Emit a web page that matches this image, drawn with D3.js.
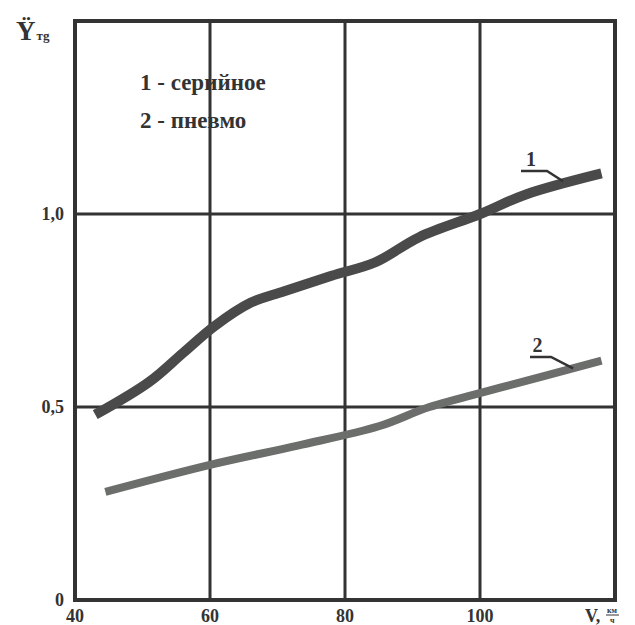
<!DOCTYPE html>
<head>
<meta charset="utf-8">
<title>Ÿтg от V</title>
<style>
  body { margin: 0; background: #fff; }
  text { font-family: "Liberation Serif", "DejaVu Serif", serif; font-weight: bold; fill: #333; }
</style>
</head>
<body>
<svg width="635" height="625"></svg>
<script src="https://d3js.org/d3.v7.min.js"></script>
<script>

    // values
    var xTicks = [40, 60, 80, 100];
    var yTicks = [0, 0.5, 1.0];
    var yTickLabels = ["0", "0,5", "1,0"];
    var legendItems = ["1 - серийное", "2 - пневмо"];

    var serial = [
        [43, 0.48], [51, 0.565], [56, 0.64], [60.7, 0.71], [66, 0.77],
        [71, 0.80], [78, 0.84], [84.5, 0.875], [91, 0.94], [100, 1.0],
        [106.7, 1.05], [118, 1.105]
    ];
    var pneumo = [
        [44.5, 0.28], [60, 0.35], [73, 0.40], [85, 0.45], [92.5, 0.50],
        [103, 0.55], [118, 0.62]
    ];

    // where the label leaders touch the curves
    var labelPoints = [[112.3, 1.085], [113.8, 0.60]];

    var svg = d3.select("svg");

    var x = d3.scaleLinear().domain([40, 120]).range([75, 615]);
    var y = d3.scaleLinear().domain([0, 1.5]).range([600, 21]);

    // grid
    svg.append("g").selectAll("line")
        .data([60, 80, 100])
        .enter().append("line")
            .attr("x1", d => x(d)).attr("x2", d => x(d))
            .attr("y1", y(1.5)).attr("y2", y(0))
            .attr("stroke", "#333").attr("stroke-width", 3);

    svg.append("g").selectAll("line")
        .data([0.5, 1.0])
        .enter().append("line")
            .attr("x1", x(40)).attr("x2", x(120))
            .attr("y1", d => y(d)).attr("y2", d => y(d))
            .attr("stroke", "#333").attr("stroke-width", 3);

    // frame
    svg.append("rect")
        .attr("x", x(40)).attr("y", y(1.5))
        .attr("width", x(120) - x(40)).attr("height", y(0) - y(1.5))
        .attr("fill", "none").attr("stroke", "#333").attr("stroke-width", 4);

    // tick labels
    svg.append("g").selectAll("text")
        .data(xTicks)
        .enter().append("text")
            .attr("x", d => x(d)).attr("y", 622)
            .attr("text-anchor", "middle")
            .style("font-size", "18px")
            .text(d => d);

    svg.append("text")
        .attr("x", x(120) - 30).attr("y", 622)
        .style("font-size", "18px")
        .text("V,");
    svg.append("text")
        .attr("x", x(120) - 8).attr("y", 613)
        .style("font-size", "8px")
        .text("км");
    svg.append("line")
        .attr("x1", x(120) - 9).attr("x2", x(120) + 4)
        .attr("y1", 615).attr("y2", 615)
        .attr("stroke", "#333").attr("stroke-width", 1);
    svg.append("text")
        .attr("x", x(120) - 5).attr("y", 623)
        .style("font-size", "8px")
        .text("ч");

    svg.append("g").selectAll("text")
        .data(yTicks)
        .enter().append("text")
            .attr("x", 64).attr("y", d => y(d) + 6)
            .attr("text-anchor", "end")
            .style("font-size", "18px")
            .text((d, i) => yTickLabels[i]);

    // y axis title
    var yt = svg.append("text").attr("x", 16).attr("y", 40);
    yt.append("tspan").style("font-size", "27px").text("Ÿ");
    yt.append("tspan").style("font-size", "13px").attr("dx", 1).text("тg");

    // legend
    svg.append("g").selectAll("text")
        .data(legendItems)
        .enter().append("text")
            .attr("x", 140).attr("y", (d, i) => 90 + i * 38)
            .style("font-size", "23px")
            .text(d => d);

    // curves
    var line = d3.line()
        .x(d => x(d[0]))
        .y(d => y(d[1]))
        .curve(d3.curveCatmullRom);

    svg.append("path")
        .datum(pneumo)
        .attr("d", line)
        .attr("fill", "none")
        .attr("stroke", "#6b6e6b")
        .attr("stroke-width", 8);

    svg.append("path")
        .datum(serial)
        .attr("d", line)
        .attr("fill", "none")
        .attr("stroke", "#4a4a4a")
        .attr("stroke-width", 10);

    // curve labels with leaders
    function curveLabel(label, p, x0, x1, yl) {
        svg.append("path")
            .attr("d", "M" + x0 + "," + yl + "H" + x1 + "L" + x(p[0]) + "," + y(p[1]))
            .attr("fill", "none").attr("stroke", "#333").attr("stroke-width", 2.5);
        svg.append("text")
            .attr("x", (x0 + x1) / 2 - 3).attr("y", yl - 5)
            .attr("text-anchor", "middle")
            .style("font-size", "20px")
            .text(label);
    }
    curveLabel("1", labelPoints[0], 521, 547, 171);
    curveLabel("2", labelPoints[1], 530, 551, 357);

</script>
</body>
